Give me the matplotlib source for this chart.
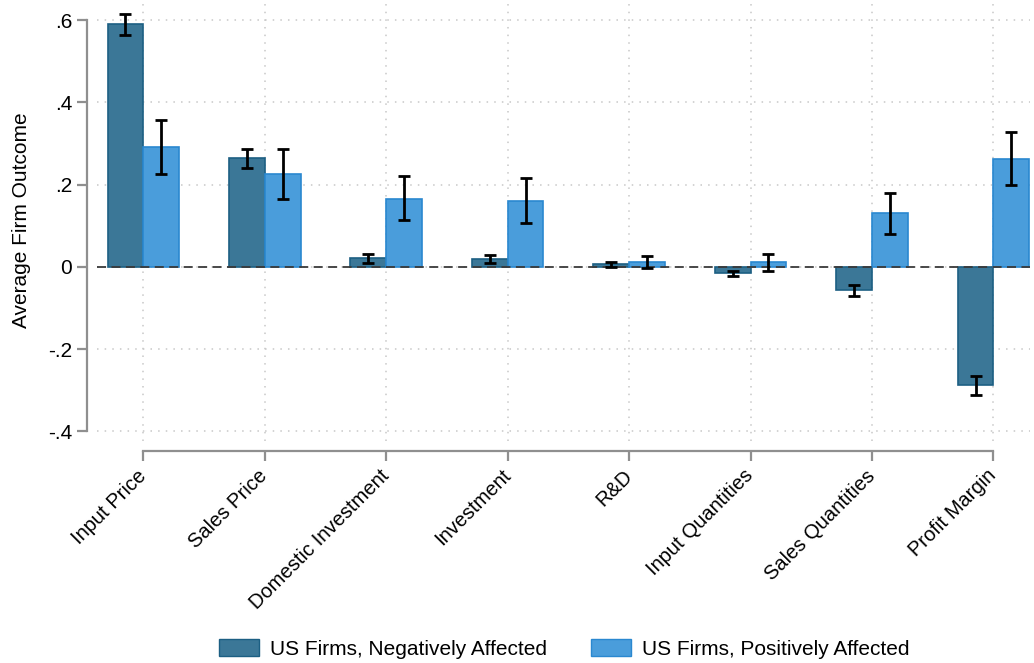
import numpy as np
import matplotlib.pyplot as plt
from matplotlib.patches import Patch

plt.rcParams['font.family'] = ['Liberation Sans', 'DejaVu Sans']

outcomes = ['Input Price', 'Sales Price', 'Domestic Investment', 'Investment',
            'R&D', 'Input Quantities', 'Sales Quantities', 'Profit Margin']

# negatively affected firms: mean, lower and upper CI
neg_mean = [0.590, 0.265, 0.021, 0.019, 0.007, -0.015, -0.057, -0.287]
neg_lo = [0.563, 0.240, 0.010, 0.009, 0.000, -0.023, -0.070, -0.312]
neg_hi = [0.615, 0.287, 0.032, 0.030, 0.012, -0.009, -0.044, -0.264]

# positively affected firms
pos_mean = [0.291, 0.226, 0.165, 0.161, 0.011, 0.011, 0.130, 0.263]
pos_lo = [0.226, 0.165, 0.114, 0.107, -0.003, -0.010, 0.079, 0.200]
pos_hi = [0.357, 0.287, 0.221, 0.217, 0.027, 0.032, 0.180, 0.327]

dark_fill, dark_edge = '#3b7797', '#1c5f83'
light_fill, light_edge = '#4a9ddb', '#2a88d0'
axis_grey = '#8f8f8f'

fig = plt.figure(figsize=(10.34, 6.63), dpi=100)
ax = fig.add_axes([0.094, 0.335, 0.902, 0.665])

# spines first: set_position resets the tick settings
for s in ['top', 'right']:
    ax.spines[s].set_visible(False)
for s in ['left', 'bottom']:
    ax.spines[s].set_color(axis_grey)
    ax.spines[s].set_linewidth(1.6)
    ax.spines[s].set_position(('outward', 7))

x = np.arange(len(outcomes))
w = 0.295

neg_mean = np.array(neg_mean)
pos_mean = np.array(pos_mean)
neg_err = [neg_mean - np.array(neg_lo), np.array(neg_hi) - neg_mean]
pos_err = [pos_mean - np.array(pos_lo), np.array(pos_hi) - pos_mean]

ax.bar(x - w / 2, neg_mean, w, color=dark_fill, edgecolor=dark_edge, linewidth=1.2, zorder=2)
ax.bar(x + w / 2, pos_mean, w, color=light_fill, edgecolor=light_edge, linewidth=1.2, zorder=2)
ax.errorbar(x - w / 2, neg_mean, yerr=neg_err, fmt='none', ecolor='black',
            elinewidth=2, capsize=4.5, capthick=2, zorder=4)
ax.errorbar(x + w / 2, pos_mean, yerr=pos_err, fmt='none', ecolor='black',
            elinewidth=2, capsize=4.5, capthick=2, zorder=4)

ax.axhline(0, color='#3a3a3a', linewidth=1.3, linestyle=(0, (5, 3)), zorder=3)

ax.set_xlim(-0.38, 7.3)
ax.set_ylim(-0.423, 0.649)
ax.spines['left'].set_bounds(-0.4, 0.6)
ax.spines['bottom'].set_bounds(0, 7)

yt = [-0.4, -0.2, 0, 0.2, 0.4, 0.6]
ax.set_yticks(yt)
ax.set_yticklabels(['-.4', '-.2', '0', '.2', '.4', '.6'], fontsize=15)
ax.set_xticks(x)
ax.set_xticklabels(outcomes, fontsize=14.5, rotation=45, ha='right', va='center',
                   rotation_mode='anchor')
ax.tick_params(axis='y', color=axis_grey, width=1.6, length=7, pad=4)
ax.tick_params(axis='x', color=axis_grey, width=1.6, length=7, pad=9)

ax.grid(True, color='#c8c8c8', linestyle=(0, (1, 4)), linewidth=1.1, zorder=0)
ax.set_axisbelow(True)

ax.set_ylabel('Average Firm Outcome', fontsize=15, labelpad=12)

handles = [Patch(facecolor=dark_fill, edgecolor=dark_edge, label='US Firms, Negatively Affected'),
           Patch(facecolor=light_fill, edgecolor=light_edge, label='US Firms, Positively Affected')]
fig.legend(handles=handles, loc='center', bbox_to_anchor=(0.546, 0.021), ncol=2,
           frameon=False, fontsize=15, handlelength=1.9, handleheight=0.85,
           columnspacing=2.1, handletextpad=0.55, borderpad=0)

fig.savefig('out.png', dpi=100)
